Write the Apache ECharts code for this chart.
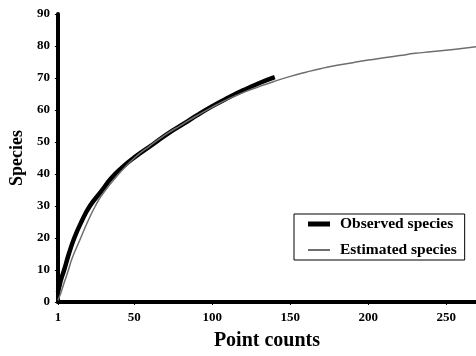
<!DOCTYPE html>
<html>
<head>
<meta charset="utf-8">
<script src="https://cdn.jsdelivr.net/npm/echarts@6/dist/echarts.min.js"></script>
<style>html,body{margin:0;padding:0;background:#fff}#c{width:476px;height:356px}</style>
</head>
<body>
<div id="c"></div>
<script>
var xTickValues = [1, 50, 100, 150, 200, 250];
var observedX = [1, 2, 3, 5, 8, 11.5, 16, 21.5, 29, 35, 42, 50, 62, 72, 82, 90, 100, 110, 120, 131, 140];
var observedY = [3, 5, 7, 10, 15, 20, 25, 30, 34.7, 38.6, 42, 45.2, 49.3, 52.8, 55.8, 58.3, 61.2, 63.8, 66.2, 68.6, 70.3];
var estimatedX = [1, 3, 5, 7.5, 10, 15, 20, 25, 30, 40, 50, 60, 70, 80, 90, 100, 110, 120, 130, 140, 150, 160, 170, 180, 190, 200, 210, 220, 230, 240, 256, 270];
var estimatedY = [0.5, 3, 6, 9.6, 13.5, 19.3, 25, 30, 34, 40, 45, 48.8, 52.3, 55.3, 58.2, 60.9, 63.4, 65.5, 67.3, 69, 70.5, 71.8, 73, 74, 74.8, 75.6, 76.3, 77, 77.7, 78.2, 79, 79.8];

function pairs(xs, ys) { return xs.map(function (x, i) { return [x, ys[i]]; }); }

var FONT = '"Liberation Serif", "DejaVu Serif", serif';
var chart = echarts.init(document.getElementById('c'), null, {renderer: 'canvas'});
chart.setOption({
  animation: false,
  backgroundColor: '#fff',
  grid: {left: 56, top: 14, bottom: 49, right: -22, containLabel: false},
  legend: {
    orient: 'vertical',
    left: 294, top: 214,
    padding: [2, 8, 2, 14],
    itemGap: 10,
    itemWidth: 22, itemHeight: 14,
    symbolKeepAspect: true,
    borderColor: '#000', borderWidth: 1,
    textStyle: {fontFamily: FONT, fontWeight: 'bold', fontSize: 15.5, color: '#000', padding: [0, 0, 0, 5]},
    data: [
      {name: 'Observed species', icon: 'path://M0,0L22,0L22,5L0,5Z', itemStyle: {color: '#000'}},
      {name: 'Estimated species', icon: 'path://M0,0L22,0L22,2L0,2Z', itemStyle: {color: '#6e6e6e'}}
    ]
  },
  xAxis: {
    type: 'value', min: 1, max: 269,
    name: 'Point counts', nameLocation: 'middle', nameGap: 29,
    nameTextStyle: {fontFamily: FONT, fontWeight: 'bold', fontSize: 20, color: '#000'},
    axisLine: {show: true, lineStyle: {color: '#000', width: 4}},
    axisTick: {show: true, customValues: xTickValues, length: 3, lineStyle: {color: '#000', width: 1}},
    axisLabel: {customValues: xTickValues, margin: 9, fontFamily: FONT, fontWeight: 'bold', fontSize: 13, color: '#000'},
    splitLine: {show: false}
  },
  yAxis: {
    type: 'value', min: 0, max: 90, interval: 10,
    name: 'Species', nameLocation: 'middle', nameGap: 29,
    nameTextStyle: {fontFamily: FONT, fontWeight: 'bold', fontSize: 18, color: '#000'},
    axisLine: {show: true, lineStyle: {color: '#000', width: 4}},
    axisTick: {show: true, length: 3, lineStyle: {color: '#000', width: 1}},
    axisLabel: {margin: 8, fontFamily: FONT, fontWeight: 'bold', fontSize: 13, color: '#000'},
    splitLine: {show: false}
  },
  series: [
    {
      name: 'Observed species', type: 'line', symbol: 'none', smooth: 0.5,
      data: pairs(observedX, observedY),
      lineStyle: {color: '#000', width: 4.5}, itemStyle: {color: '#000'}, z: 2
    },
    {
      name: 'Estimated species', type: 'line', symbol: 'none', smooth: 0.5,
      data: pairs(estimatedX, estimatedY),
      lineStyle: {color: '#6e6e6e', width: 1.5}, itemStyle: {color: '#6e6e6e'}, z: 3
    }
  ]
});
</script>
</body>
</html>
